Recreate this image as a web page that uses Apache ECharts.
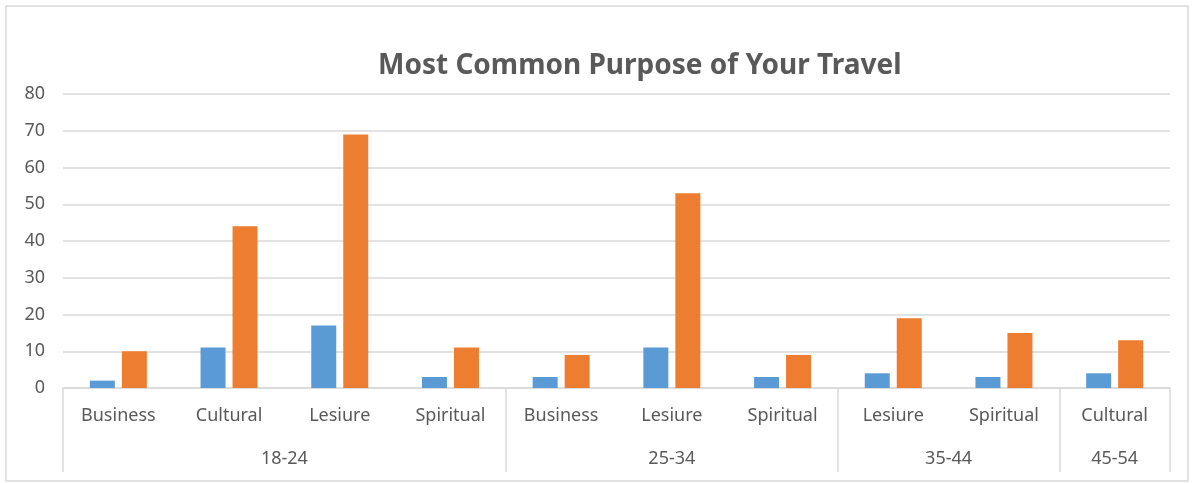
<!DOCTYPE html>
<html>
<head>
<meta charset="utf-8">
<script src="https://cdn.jsdelivr.net/npm/echarts@6/dist/echarts.min.js"></script>
<style>
  html, body { margin: 0; padding: 0; background: #fff; }
  #chart { width: 1193px; height: 483px; }
</style>
</head>
<body>
<div id="chart"></div>
<script>
// purposes (inner category level) and age groups (outer level)
var purposes = ['Business', 'Cultural', 'Lesiure', 'Spiritual', 'Business', 'Lesiure', 'Spiritual', 'Lesiure', 'Spiritual', 'Cultural'];
var ageGroups = ['18-24', '25-34', '35-44', '45-54'];
var groupSizes = [4, 3, 2, 1];
var seriesBlue = [2, 11, 17, 3, 3, 11, 3, 4, 3, 4];
var seriesOrange = [10, 44, 69, 11, 9, 53, 9, 19, 15, 13];
var yTicks = [0, 10, 20, 30, 40, 50, 60, 70, 80];

var textColor = '#595959';
var lineColor = '#d9d9d9';
var fontFamily = '"Noto Sans", "Open Sans", sans-serif';

// group boundaries and label centres, on a 0..n scale
var bounds = [0];
var centres = [];
groupSizes.forEach(function (s, i) {
    var start = bounds[bounds.length - 1];
    bounds.push(start + s);
    centres.push(start + s / 2);
});

var chart = echarts.init(document.getElementById('chart'));
chart.setOption({
    backgroundColor: '#fff',
    animation: false,
    title: {
        text: 'Most Common Purpose of Your Travel',
        left: 373,
        top: 47,
        textStyle: { color: textColor, fontSize: 28, fontWeight: 'bold', fontFamily: fontFamily }
    },
    graphic: [{
        type: 'rect',
        shape: { x: 6, y: 6, width: 1182, height: 475 },
        style: { fill: 'none', stroke: lineColor, lineWidth: 1.5 }
    }],
    grid: { left: 63, right: 23, top: 94, bottom: 95 },
    xAxis: [{
        type: 'category',
        data: purposes,
        axisLine: { show: true, lineStyle: { color: lineColor, width: 1.5 } },
        axisTick: { show: false },
        axisLabel: { color: textColor, fontSize: 18, fontFamily: fontFamily, margin: 19, interval: 0 }
    }, {
        type: 'value',
        min: 0,
        max: purposes.length,
        position: 'bottom',
        axisLine: { show: false },
        splitLine: { show: false },
        axisTick: {
            show: true,
            customValues: bounds,
            length: 84,
            lineStyle: { color: lineColor, width: 1.5 }
        },
        axisLabel: {
            show: true,
            customValues: centres,
            margin: 62,
            color: textColor,
            fontSize: 18,
            fontFamily: fontFamily,
            formatter: function (v) {
                var i = centres.indexOf(v);
                return i >= 0 ? ageGroups[i] : '';
            }
        }
    }],
    yAxis: {
        type: 'value',
        min: yTicks[0],
        max: yTicks[yTicks.length - 1],
        interval: yTicks[1] - yTicks[0],
        axisLine: { show: false },
        axisTick: { show: false },
        splitLine: { lineStyle: { color: lineColor, width: 1.5 } },
        axisLabel: { color: textColor, fontSize: 18, fontFamily: fontFamily, margin: 18 }
    },
    series: [{
        name: 'Series1',
        type: 'bar',
        data: seriesBlue,
        barWidth: 25,
        barGap: '28%',
        itemStyle: { color: '#5b9bd5' }
    }, {
        name: 'Series2',
        type: 'bar',
        data: seriesOrange,
        barWidth: 25,
        itemStyle: { color: '#ed7d31' }
    }]
});
</script>
</body>
</html>
